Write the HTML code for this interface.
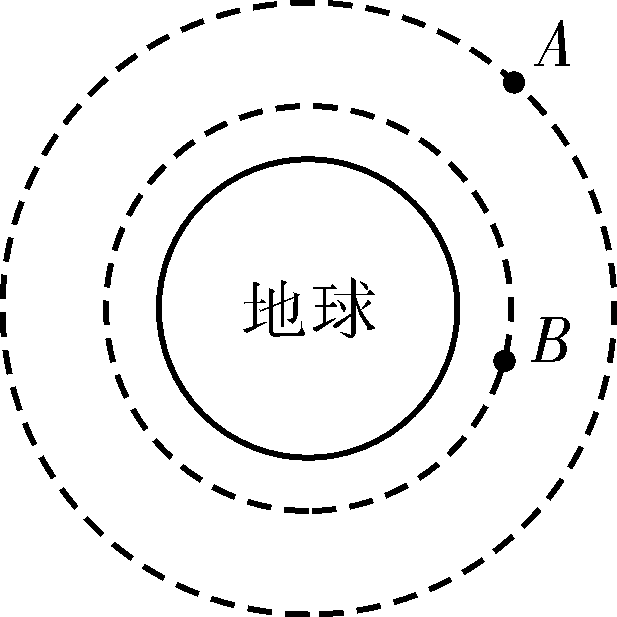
<!DOCTYPE html>
<html><head><meta charset="utf-8"><style>
html,body{margin:0;padding:0;background:#fff;width:617px;height:617px;overflow:hidden}
svg{display:block}
</style></head><body>
<svg width="617" height="617" viewBox="0 0 617 617" shape-rendering="crispEdges">
<rect width="617" height="617" fill="#fff"/>
<path d="M309.56 614.50A306.00 306.00 0 0 1 284.99 613.60M271.88 612.30A306.00 306.00 0 0 1 247.60 608.38M234.76 605.48A306.00 306.00 0 0 1 211.15 598.60M198.75 594.14A306.00 306.00 0 0 1 176.17 584.41M164.42 578.46A306.00 306.00 0 0 1 143.21 566.02M132.28 558.67A306.00 306.00 0 0 1 112.76 543.71M102.82 535.07A306.00 306.00 0 0 1 85.29 517.82M76.49 508.02A306.00 306.00 0 0 1 61.22 488.74M53.69 477.94A306.00 306.00 0 0 1 40.91 456.93M34.77 445.28A306.00 306.00 0 0 1 24.67 422.85M20.01 410.54A306.00 306.00 0 0 1 12.75 387.04M9.65 374.24A306.00 306.00 0 0 1 5.33 350.03M3.83 336.95A306.00 306.00 0 0 1 2.52 312.39M2.64 299.22A306.00 306.00 0 0 1 4.37 274.69M6.11 261.63A306.00 306.00 0 0 1 10.85 237.50M14.18 224.76A306.00 306.00 0 0 1 21.86 201.39M26.73 189.16A306.00 306.00 0 0 1 37.22 166.92M43.57 155.38A306.00 306.00 0 0 1 56.72 134.60M64.43 123.92A306.00 306.00 0 0 1 80.05 104.92M89.02 95.28A306.00 306.00 0 0 1 106.85 78.34M116.94 69.88A306.00 306.00 0 0 1 136.72 55.27M147.77 48.11A306.00 306.00 0 0 1 169.20 36.04M181.05 30.30A306.00 306.00 0 0 1 203.81 20.97M216.28 16.73A306.00 306.00 0 0 1 240.00 10.26M252.90 7.59A306.00 306.00 0 0 1 277.24 4.10M290.37 3.04A306.00 306.00 0 0 1 314.96 2.57M328.12 3.13A306.00 306.00 0 0 1 352.58 5.69M365.56 7.87A306.00 306.00 0 0 1 389.52 13.42M402.14 17.18A306.00 306.00 0 0 1 425.23 25.64M437.30 30.93A306.00 306.00 0 0 1 459.17 42.17M470.49 48.89A306.00 306.00 0 0 1 490.82 62.74M501.22 70.81A306.00 306.00 0 0 1 519.69 87.06M529.02 96.35A306.00 306.00 0 0 1 545.34 114.74M553.46 125.11A306.00 306.00 0 0 1 567.40 145.38M574.17 156.67A306.00 306.00 0 0 1 585.51 178.49M590.85 190.53A306.00 306.00 0 0 1 599.41 213.59M603.22 226.19A306.00 306.00 0 0 1 608.88 250.13M611.11 263.10A306.00 306.00 0 0 1 613.78 287.55M614.40 300.71A306.00 306.00 0 0 1 614.04 325.30M613.03 338.43A306.00 306.00 0 0 1 609.65 362.79M607.03 375.69A306.00 306.00 0 0 1 600.67 399.45M596.49 411.94A306.00 306.00 0 0 1 587.25 434.73M581.56 446.61A306.00 306.00 0 0 1 569.59 468.09M562.48 479.17A306.00 306.00 0 0 1 547.95 499.02M539.54 509.15A306.00 306.00 0 0 1 522.68 527.05M513.07 536.06A306.00 306.00 0 0 1 494.14 551.76M483.50 559.52A306.00 306.00 0 0 1 462.78 572.76M451.26 579.16A306.00 306.00 0 0 1 429.07 589.75M416.86 594.67A306.00 306.00 0 0 1 393.52 602.45M380.80 605.84A306.00 306.00 0 0 1 356.69 610.68M343.64 612.48A306.00 306.00 0 0 1 319.12 614.32" fill="none" stroke="#000" stroke-width="6"/>
<path d="M308.89 511.00A202.50 202.50 0 0 1 284.24 509.54M271.38 507.57A202.50 202.50 0 0 1 247.43 501.57M235.15 497.25A202.50 202.50 0 0 1 212.73 486.92M201.47 480.40A202.50 202.50 0 0 1 181.35 466.10M171.48 457.61A202.50 202.50 0 0 1 154.36 439.83M146.24 429.65A202.50 202.50 0 0 1 132.70 409.01M126.61 397.50A202.50 202.50 0 0 1 117.13 374.71M113.27 362.28A202.50 202.50 0 0 1 108.18 338.13M106.69 325.19A202.50 202.50 0 0 1 106.16 300.51M107.09 287.53A202.50 202.50 0 0 1 111.14 263.18M114.46 250.59A202.50 202.50 0 0 1 122.94 227.41M128.54 215.66A202.50 202.50 0 0 1 141.17 194.45M148.84 183.94A202.50 202.50 0 0 1 165.19 165.44M174.68 156.52A202.50 202.50 0 0 1 194.16 141.37M205.14 134.37A202.50 202.50 0 0 1 227.09 123.08M239.17 118.24A202.50 202.50 0 0 1 262.84 111.22M275.61 108.69A202.50 202.50 0 0 1 300.16 106.17M313.18 106.05A202.50 202.50 0 0 1 337.78 108.13M350.59 110.42A202.50 202.50 0 0 1 374.38 117.02M386.55 121.64A202.50 202.50 0 0 1 408.70 132.53M419.80 139.33A202.50 202.50 0 0 1 439.56 154.13M449.21 162.87A202.50 202.50 0 0 1 465.88 181.07M473.74 191.45A202.50 202.50 0 0 1 486.76 212.42M492.56 224.07A202.50 202.50 0 0 1 501.47 247.10M505.01 259.62A202.50 202.50 0 0 1 509.50 283.90M510.67 296.86A202.50 202.50 0 0 1 510.58 321.55M509.32 334.50A202.50 202.50 0 0 1 504.67 358.74M501.03 371.24A202.50 202.50 0 0 1 491.97 394.20M486.08 405.82A202.50 202.50 0 0 1 472.92 426.70M464.99 437.02A202.50 202.50 0 0 1 448.19 455.11M438.48 463.78A202.50 202.50 0 0 1 418.62 478.44M407.47 485.16A202.50 202.50 0 0 1 385.24 495.89M373.05 500.44A202.50 202.50 0 0 1 349.21 506.87M336.38 509.07A202.50 202.50 0 0 1 311.77 510.97" fill="none" stroke="#000" stroke-width="6"/>
<circle cx="308.2" cy="308.5" r="149.3" fill="none" stroke="#000" stroke-width="6"/>
<circle cx="514" cy="82.5" r="11.2" fill="#000"/>
<circle cx="504.5" cy="361" r="11.2" fill="#000"/>
<path d="M534 63.7H544V65.8H534Z" fill="#000"/><path d="M555 63.7H570V65.8H555Z" fill="#000"/><path d="M537.6 64.5L539.6 64.5L558.5 29L561 21L558.8 22.5L556.8 27.5Z" fill="#000"/><path d="M546 48.7H559V50H546Z" fill="#000"/><path d="M560.3 20H563L564 31L565 44L566 57.4L566.5 64.5H559.5L559.2 57.4L558.5 44L558 31L557 27Z" fill="#000"/>
<path d="M539.9 318.1L541 317.1L560.8 317.1C566 317.5 570.2 320.5 570.2 325.9C570.2 331.5 565 336 559.5 338.3C565 339.5 566.9 345 566.9 350.2C566.9 357 561 361.7 554.1 361.7L531 361.7L531 360L535.5 359.5L544.8 319.2L540.3 319.1Z M551.9 319.2L560.8 319.2C563.5 319.5 564 322 564 324.5C564 331 560 337.5 553 338.2L546.7 338.2Z M546.3 339.8L556 339.6C559 341 560.2 344.5 560.2 348C560.2 354.5 556.5 359.9 551 359.9L541.4 359.9Z" fill="#000" fill-rule="evenodd"/>
<path d="M243.9 301.7L259.7 301.7L261.8 299L265.9 302.3L265.9 303.2L245 303.2L244.2 304Z"/><path d="M253 282L256.1 282L260.2 284.3L256.9 286.9L256.6 328.3L253 329.6Z"/><path d="M243.1 329.4L266.4 321.4L267.2 322.4L247.3 332.8L244.5 332Z"/><path d="M259.2 309.4L261.3 309.6L299.1 294.5L299.5 296L262 311.3L260 311.8Z"/><path d="M269 288.2L273 289.5L275.2 291L273.4 293.1L272.9 331.5L274 332.5L298.5 332.5L301.3 327.5L301.4 320.8L302.1 320.8L302.4 327.5L304.8 332.5L305.4 334.2L303.5 336.2L272.7 336.6L270.6 335.1L269 332Z"/><path d="M281 279.9L284.1 280.7L287.2 282.4L284.4 284.8L284.1 327.3L281 327.3Z"/><path d="M293.4 292.1L300.1 294.7L298.1 296.7L297.8 315L296 321L292.5 323.7L286.7 319.5L287.5 318.8L292.8 318.3L293.8 296Z"/>
<path d="M312.8 287L330.4 287L332.6 283.9L337 288.3L337 288.9L312.8 288.9Z"/><path d="M314.4 305L329.8 305L332.6 301.5L337 305.4L337 306.5L316 306.5L315 307.3Z"/><path d="M322.5 288.3L326 288.3L326 323.8L322.5 325.3Z"/><path d="M312.2 328L315 326.8L335.3 317.8L336.2 318.9L316.6 331.8L314.4 331.2Z"/><path d="M334.2 293.9L367.1 293.9L369.3 289.4L374.8 294.4L374.8 295.2L334.2 295.2Z"/><path d="M350.8 277.1L353.3 277.9L356.6 280.6L355.5 282.3L355.5 333.5L353.9 337.4L349.4 338.5L340.1 332.4L340.6 331.6L350.8 334.8Z"/><path d="M359.1 281L360.9 281.5L366.8 284.6L367.9 286.5L367.9 289.6L365.9 290L363.6 286.5Z"/><path d="M337 299.9L338.8 300.3L344.9 304.9L346 308.5L345.3 311.3L343.5 311.8L341.3 308.5L339.9 303.8Z"/><path d="M333 325L336 322.8L350.5 313.8L351 316.2L337 327.8L334.5 327.6L333 326.3Z"/><path d="M361 309.5L367.3 300.6L368.6 299.9L371.8 303.1L361.6 310Z"/><path d="M355.9 296.5L358.2 303.3L360.9 309.6L364.5 316L370 323.3L374.5 327.2L375 328.9L372 329.6L367.3 329.6L366.8 326.9L362.3 319.6L359.1 314.2L356.8 306.9L355.5 301.5Z"/>
</svg>
</body></html>
